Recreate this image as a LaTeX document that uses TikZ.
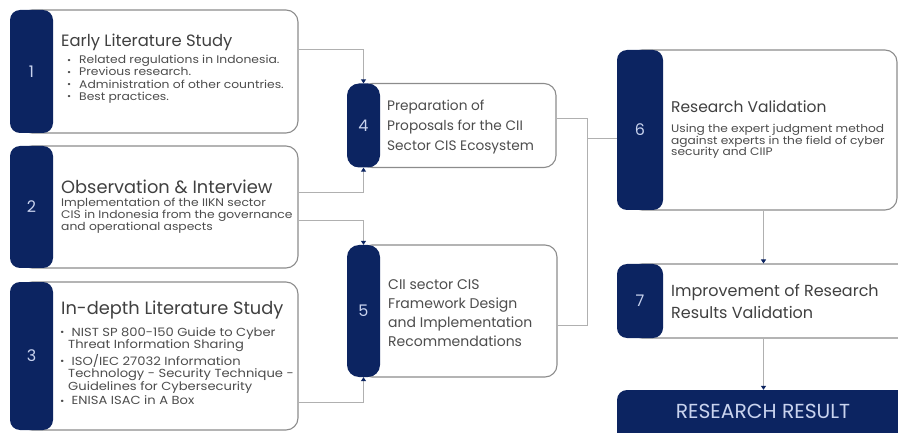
\documentclass[tikz,border=0pt]{standalone}
\usepackage{fontspec}
\setmainfont{Poppins}
\newfontfamily\widefont{Poppins}[FakeStretch=1.12]
\usetikzlibrary{arrows.meta}

\definecolor{navy}{HTML}{0C2461}
\definecolor{numtxt}{HTML}{C9D3EE}
\definecolor{bodytxt}{HTML}{4D4D4D}
\definecolor{ttltxt}{HTML}{404040}
\definecolor{rim}{HTML}{8C8C8C}
\definecolor{wire}{HTML}{B0B0B0}

\newcommand{\bul}[1][12pt]{\makebox[#1][l]{\raisebox{0.5pt}{\scalebox{0.8}{\textbullet}}}}

\begin{document}
\begin{tikzpicture}[x=1pt, y=-1pt,
    panel/.style={draw=rim, line width=1.1pt, fill=white, rounded corners=12pt, inner sep=0},
    tab/.style={fill=navy, rounded corners=10pt, text=numtxt, inner sep=0, font=\fontsize{16}{16}\selectfont},
    ttl/.style={anchor=base west, inner sep=0, text=ttltxt},
    body/.style={anchor=base west, inner sep=0, text=bodytxt},
    link/.style={draw=wire, line width=1pt},
    arr/.style={link, -{Triangle[length=4pt, width=5pt, color=navy]}}]
  \useasboundingbox (0,0) rectangle (898,433);
  \clip (0,0) rectangle (898,433);

  % left column
  \node[panel, minimum width=278pt, minimum height=123pt] (b1) at (159,71.5) {};
  \node[tab, minimum width=43pt, minimum height=123pt] (n1) at (31.5,71.5) {1};
  \node[ttl, font=\fontsize{16.4}{17}\selectfont] (h1) at (61,47) {Early Literature Study};
  \node[body, font=\widefont\fontsize{11}{12}\selectfont] (t1) at (67,64) {\begin{tabular}[t]{@{}l@{}}
    \bul Related regulations in Indonesia.\\
    \bul Previous research.\\
    \bul Administration of other countries.\\
    \bul Best practices.
  \end{tabular}};

  \node[panel, minimum width=278pt, minimum height=122pt] (b2) at (159,207) {};
  \node[tab, minimum width=43pt, minimum height=122pt] (n2) at (31.5,207) {2};
  \node[ttl, font=\fontsize{17.8}{18}\selectfont] (h2) at (61,194) {Observation \& Interview};
  \node[body, font=\widefont\fontsize{11}{11.5}\selectfont] (t2) at (61,207) {\begin{tabular}[t]{@{}l@{}}
    Implementation of the IIKN sector\\
    CIS in Indonesia from the governance\\
    and operational aspects
  \end{tabular}};

  \node[panel, minimum width=278pt, minimum height=148pt] (b3) at (159,356) {};
  \node[tab, minimum width=43pt, minimum height=148pt] (n3) at (31.5,356) {3};
  \node[ttl, font=\fontsize{17.8}{18}\selectfont] (h3) at (61,314) {In-depth Literature Study};
  \node[body, font=\widefont\fontsize{11.7}{12}\selectfont] (t3) at (60,336) {\begin{tabular}[t]{@{}l@{}}
    \bul[8pt] NIST SP 800-150 Guide to Cyber\\
    \hspace*{8pt}Threat Information Sharing\\[2pt]
    \bul[8pt] ISO/IEC 27032 Information\\
    \hspace*{8pt}Technology - Security Technique -\\
    \hspace*{8pt}Guidelines for Cybersecurity\\[2pt]
    \bul[8pt] ENISA ISAC in A Box
  \end{tabular}};

  % middle column
  \node[panel, minimum width=196pt, minimum height=84pt] (b4) at (458,125.5) {};
  \node[tab, rounded corners=12pt, minimum width=33pt, minimum height=84pt] (n4) at (363.5,125.5) {4};
  \node[body, font=\fontsize{13.7}{19.7}\selectfont] (t4) at (387,110.7) {\begin{tabular}[t]{@{}l@{}}
    Preparation of\\
    Proposals for the CII\\
    Sector CIS Ecosystem
  \end{tabular}};

  \node[panel, minimum width=197pt, minimum height=132pt] (b5) at (458.5,311) {};
  \node[tab, rounded corners=12pt, minimum width=33pt, minimum height=132pt] (n5) at (363.5,311) {5};
  \node[body, font=\fontsize{14}{18.7}\selectfont] (t5) at (388,290) {\begin{tabular}[t]{@{}l@{}}
    CII sector CIS\\
    Framework Design\\
    and Implementation\\
    Recommendations
  \end{tabular}};

  % right column
  \node[panel, minimum width=267pt, minimum height=160pt] (b6) at (763.5,130) {};
  \node[tab, minimum width=46pt, minimum height=160pt] (n6) at (640,130) {6};
  \node[ttl, font=\fontsize{15.5}{15.5}\selectfont] (h6) at (671,112.7) {Research Validation};
  \node[body, font=\widefont\fontsize{10.9}{10.8}\selectfont] (t6) at (671,132.7) {\begin{tabular}[t]{@{}l@{}}
    Using the expert judgment method\\
    against experts in the field of cyber\\
    security and CIIP
  \end{tabular}};

  \node[panel, minimum width=290pt, minimum height=74pt] (b7) at (775,301) {};
  \node[tab, minimum width=46pt, minimum height=74pt] (n7) at (640,301) {7};
  \node[ttl, font=\fontsize{16}{21.7}\selectfont] (t7) at (671,296.7) {\begin{tabular}[t]{@{}l@{}}
    Improvement of Research\\
    Results Validation
  \end{tabular}};

  \node[tab, minimum width=313pt, minimum height=70pt] (res) at (773.5,425) {};
  \node[anchor=base, inner sep=0, text=numtxt, font=\fontsize{20.3}{20}\selectfont] (rl) at (763,418.3) {RESEARCH RESULT};

  % connectors
  \draw[arr] ([yshift=21.5pt]b1.east) -| (n4.north);
  \draw[arr] ([yshift=14pt]b2.east) -| (n4.south);
  \draw[arr] ([yshift=-14pt]b2.east) -| (n5.north);
  \draw[arr] ([yshift=-46pt]b3.east) -| (n5.south);
  \draw[link] ([yshift=6.5pt]b4.east) -- ++(31,0) |- ([yshift=-9pt]n6.west);
  \draw[link] ([yshift=-14pt]b5.east) -- ++(30,0) |- ([yshift=-9pt]n6.west);
  \draw[arr] (b6.south) -- (b7.north -| b6.south);
  \draw[arr] (b7.south -| b6.south) -- (res.north -| b6.south);
\end{tikzpicture}
\end{document}
